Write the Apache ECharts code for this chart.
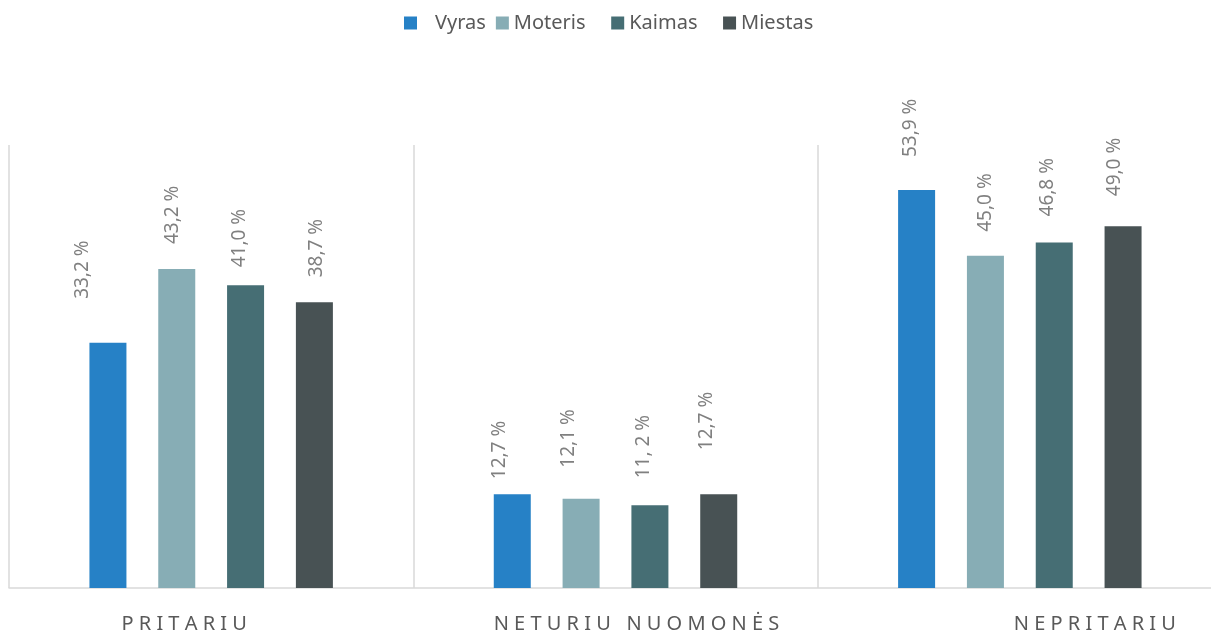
<!DOCTYPE html>
<html>
<head>
<meta charset="utf-8">
<script src="https://cdn.jsdelivr.net/npm/echarts@6/dist/echarts.min.js"></script>
<style>
  html, body { margin: 0; padding: 0; background: #fff; }
  #chart { width: 1211px; height: 632px; }
</style>
</head>
<body>
<div id="chart"></div>
<script>
// Survey answers split by gender and by place of residence (%)
const categories = ['PRITARIU', 'NETURIU NUOMONĖS', 'NEPRITARIU'];
const seriesNames = ['Vyras', 'Moteris', 'Kaimas', 'Miestas'];
const vyras   = [33.2, 12.7, 53.9];
const moteris = [43.2, 12.1, 45.0];
const kaimas  = [41.0, 11.2, 46.8];
const miestas = [38.7, 12.7, 49.0];

const colors = ['#2681c6', '#87adb5', '#466e74', '#485254'];

// Hand-placed value labels: [horizontal shift, gap above bar] per bar
const labelNudge = [
  [[-25, 44], [-13, 15], [-6, 33]],
  [[-4, 25],  [-12, 31], [0, 24]],
  [[-6, 18],  [-6, 27],  [-7, 26]],
  [[2, 25],   [-12, 44], [-8, 30]]
];
// Category titles sit slightly off the band centre
const titleShift = [-27, 21, 75];

function fmt(v, seriesIdx, dataIdx) {
  let s = v.toFixed(1).replace('.', ',');
  if (seriesIdx === 2 && dataIdx === 1) s = s.replace(',', ', ');
  return s + ' %';
}

// letter-spaced category titles
function spaced(str) {
  return str.split(' ').map(w => w.split('').join(' ')).join('   ');
}

const allValues = [vyras, moteris, kaimas, miestas];

const series = allValues.map((vals, si) => ({
  name: seriesNames[si],
  type: 'bar',
  barWidth: 37,
  barGap: '86%',
  itemStyle: { color: colors[si] },
  data: vals.map((v, di) => ({
    value: v,
    label: {
      show: true,
      position: 'top',
      rotate: 90,
      align: 'left',
      verticalAlign: 'middle',
      distance: labelNudge[si][di][1],
      // offset is expressed in the rotated frame: second value moves sideways
      offset: [0, labelNudge[si][di][0]],
      formatter: () => fmt(v, si, di),
      color: '#808080',
      fontFamily: 'Noto Sans',
      fontSize: 19
    }
  }))
}));

const rich = {};
titleShift.forEach((s, i) => {
  rich['c' + i] = {
    fontFamily: 'Noto Sans',
    fontSize: 20,
    color: '#595959',
    padding: s >= 0 ? [0, 0, 0, 2 * s] : [0, -2 * s, 0, 0]
  };
});

const legendText = { fontFamily: 'Noto Sans', fontSize: 20, color: '#595959' };

const chart = echarts.init(document.getElementById('chart'), null, { renderer: 'canvas' });
chart.setOption({
  animation: false,
  color: colors,
  legend: {
    top: 13,
    left: 404,
    padding: 0,
    icon: 'rect',
    itemWidth: 13,
    itemHeight: 13,
    itemGap: 10,
    data: seriesNames,
    formatter: name => {
      if (name === 'Vyras') return '{v|' + name + '}';
      if (name === 'Moteris' || name === 'Kaimas') return '{t|' + name + '}{t|   }';
      return '{t|' + name + '}';
    },
    textStyle: Object.assign({}, legendText, {
      rich: {
        v: Object.assign({}, legendText, { padding: [0, 0, 0, 13] }),
        t: Object.assign({}, legendText)
      }
    })
  },
  grid: {
    left: 9, top: 145, bottom: 44, width: 1213,
    containLabel: false,
    outerBoundsMode: 'none'
  },
  xAxis: {
    type: 'category',
    data: categories,
    boundaryGap: true,
    axisTick: { show: false },
    axisLine: { lineStyle: { color: '#d9d9d9', width: 1.5 } },
    splitLine: { show: true, lineStyle: { color: '#d9d9d9', width: 1.5 } },
    axisLabel: {
      margin: 26,
      interval: 0,
      formatter: (val, idx) => '{c' + idx + '|' + spaced(val) + '}',
      rich: rich
    }
  },
  yAxis: {
    type: 'value',
    min: 0,
    max: 60,
    show: false,
    splitLine: { show: false }
  },
  series: series
});
</script>
</body>
</html>
